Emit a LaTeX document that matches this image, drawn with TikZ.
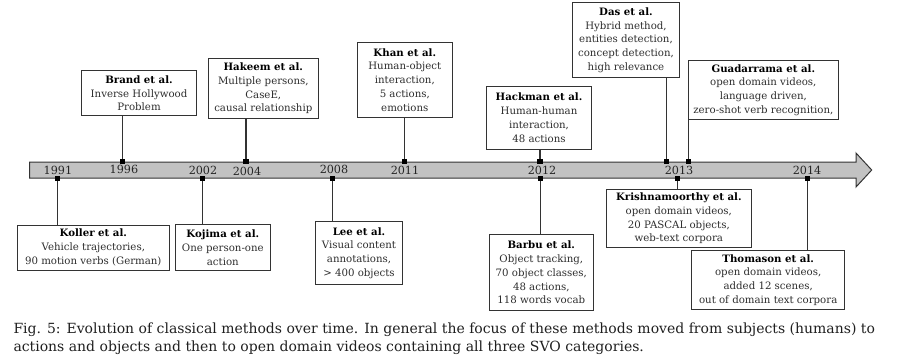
\documentclass[tikz,border=0pt]{standalone}
\usepackage{fontspec}
\setmainfont{DejaVu Serif}
\definecolor{bargray}{HTML}{C2C2C2}
\definecolor{edgegray}{HTML}{333333}
\definecolor{txtgray}{HTML}{2E2E2E}
\tikzset{
  evbox/.style={draw=edgegray, line width=1pt, fill=white, inner sep=0pt, align=center,
    text=txtgray, font=\fontsize{10.2}{13.7}\selectfont},
  yearlbl/.style={inner sep=0pt, text=black!85, font=\fontsize{11.2}{12}\selectfont},
  tickmark/.style={fill=black, draw=none, minimum size=5.5pt, inner sep=0pt},
  conn/.style={draw=edgegray, line width=1.4pt},
}
\newcommand{\ttl}[1]{\textbf{\color{black}#1}}
\begin{document}
\begin{tikzpicture}[x=1pt,y=-1pt]
\useasboundingbox (0,0) rectangle (913,356);
% timeline arrow
\draw[draw=edgegray, fill=bargray, line width=1pt]
  (29.5,162) -- (856,162) -- (856,153) -- (871.7,170) -- (856,187) -- (856,178) -- (29.5,178) -- cycle;
% year labels
\node[yearlbl] (y1991) at (58,170) {1991};
\node[yearlbl] (y1996) at (124,169.5) {1996};
\node[yearlbl] (y2002) at (203,170) {2002};
\node[yearlbl] (y2004) at (247,171) {2004};
\node[yearlbl] (y2008) at (334,169.5) {2008};
\node[yearlbl] (y2011) at (405,170) {2011};
\node[yearlbl] (y2012) at (542,170) {2012};
\node[yearlbl] (y2013) at (679,170.5) {2013};
\node[yearlbl] (y2014) at (807,170.5) {2014};
% markers
\node[tickmark] (t96) at (122.7,161.5) {};
\node[tickmark] (t04) at (246,161.5) {};
\node[tickmark] (t11) at (404.7,161.5) {};
\node[tickmark] (t12a) at (540,161.5) {};
\node[tickmark] (t13a) at (666.7,161.5) {};
\node[tickmark] (t13b) at (688.7,161.5) {};
\node[tickmark] (t91) at (57.3,178.5) {};
\node[tickmark] (t02) at (202.7,178.5) {};
\node[tickmark] (t08) at (332.7,178.5) {};
\node[tickmark] (t12b) at (540.7,178.5) {};
\node[tickmark] (t13c) at (677.7,178.5) {};
\node[tickmark] (t14) at (807.7,178.5) {};
% boxes above
\node[evbox, minimum width=114.6pt, minimum height=45pt] (brand) at (139,93.2)
  {\ttl{Brand et al.}\\Inverse Hollywood\\Problem};
\node[evbox, minimum width=110pt, minimum height=59.3pt] (hakeem) at (263.3,88.35)
  {\ttl{Hakeem et al.}\\Multiple persons,\\CaseE,\\causal relationship};
\node[evbox, minimum width=95pt, minimum height=75pt] (khan) at (404.8,79.8)
  {\ttl{Khan et al.}\\Human-object\\interaction,\\5 actions,\\emotions};
\node[evbox, minimum width=104.6pt, minimum height=62.7pt] (hackman) at (539,117.65)
  {\ttl{Hackman et al.}\\Human-human\\interaction,\\48 actions};
\node[evbox, minimum width=106.6pt, minimum height=75pt] (das) at (626,40.2)
  {\ttl{Das et al.}\\Hybrid method,\\entities detection,\\concept detection,\\high relevance};
\node[evbox, minimum width=150.7pt, minimum height=58.3pt] (guad) at (763.35,89.85)
  {\ttl{Guadarrama et al.}\\open domain videos,\\language driven,\\zero-shot verb recognition,};
% boxes below
\node[evbox, minimum width=152pt, minimum height=45pt] (koller) at (93.3,247.5)
  {\ttl{Koller et al.}\\Vehicle trajectories,\\90 motion verbs (German)};
\node[evbox, minimum width=94.3pt, minimum height=46.4pt] (kojima) at (222.85,247.5)
  {\ttl{Kojima et al.}\\One person-one\\action};
\node[evbox, minimum width=86.6pt, minimum height=62.3pt] (lee) at (359,252.85)
  {\ttl{Lee et al.}\\Visual content\\annotations,\\> 400 objects};
\node[evbox, minimum width=104pt, minimum height=76.4pt] (barbu) at (541.3,272.5)
  {\ttl{Barbu et al.}\\Object tracking,\\70 object classes,\\48 actions,\\118 words vocab};
\node[evbox, minimum width=144.3pt, minimum height=58.4pt] (krish) at (678.85,218.5)
  {\ttl{Krishnamoorthy et al.}\\open domain videos,\\20 PASCAL objects,\\web-text corpora};
\node[evbox, minimum width=153pt, minimum height=58.6pt] (thom) at (768.2,280)
  {\ttl{Thomason et al.}\\open domain videos,\\added 12 scenes,\\out of domain text corpora};
% connectors
\draw[conn] (brand.south -| t96) -- (t96);
\draw[conn] (hakeem.south -| t04) -- (t04);
\draw[conn] (khan.south -| t11) -- (t11);
\draw[conn] (hackman.south -| t12a) -- (t12a);
\draw[conn] (das.south -| t13a) -- (t13a);
\draw[conn] (guad.south -| t13b) -- (t13b);
\draw[conn] (koller.north -| t91) -- (t91);
\draw[conn] (kojima.north -| t02) -- (t02);
\draw[conn] (lee.north -| t08) -- (t08);
\draw[conn] (barbu.north -| t12b) -- (t12b);
\draw[conn] (krish.north -| t13c) -- (t13c);
\draw[conn] (thom.north -| t14) -- (t14);
% caption
\node[anchor=north west, inner sep=0pt, align=left, text=black!88,
  font=\fontsize{14}{18.3}\selectfont] (cap) at (13.3,322.3)
  {Fig. 5: Evolution of classical methods over time. In general the focus of these methods moved from subjects (humans) to\\
   actions and objects and then to open domain videos containing all three SVO categories.};
\end{tikzpicture}
\end{document}
